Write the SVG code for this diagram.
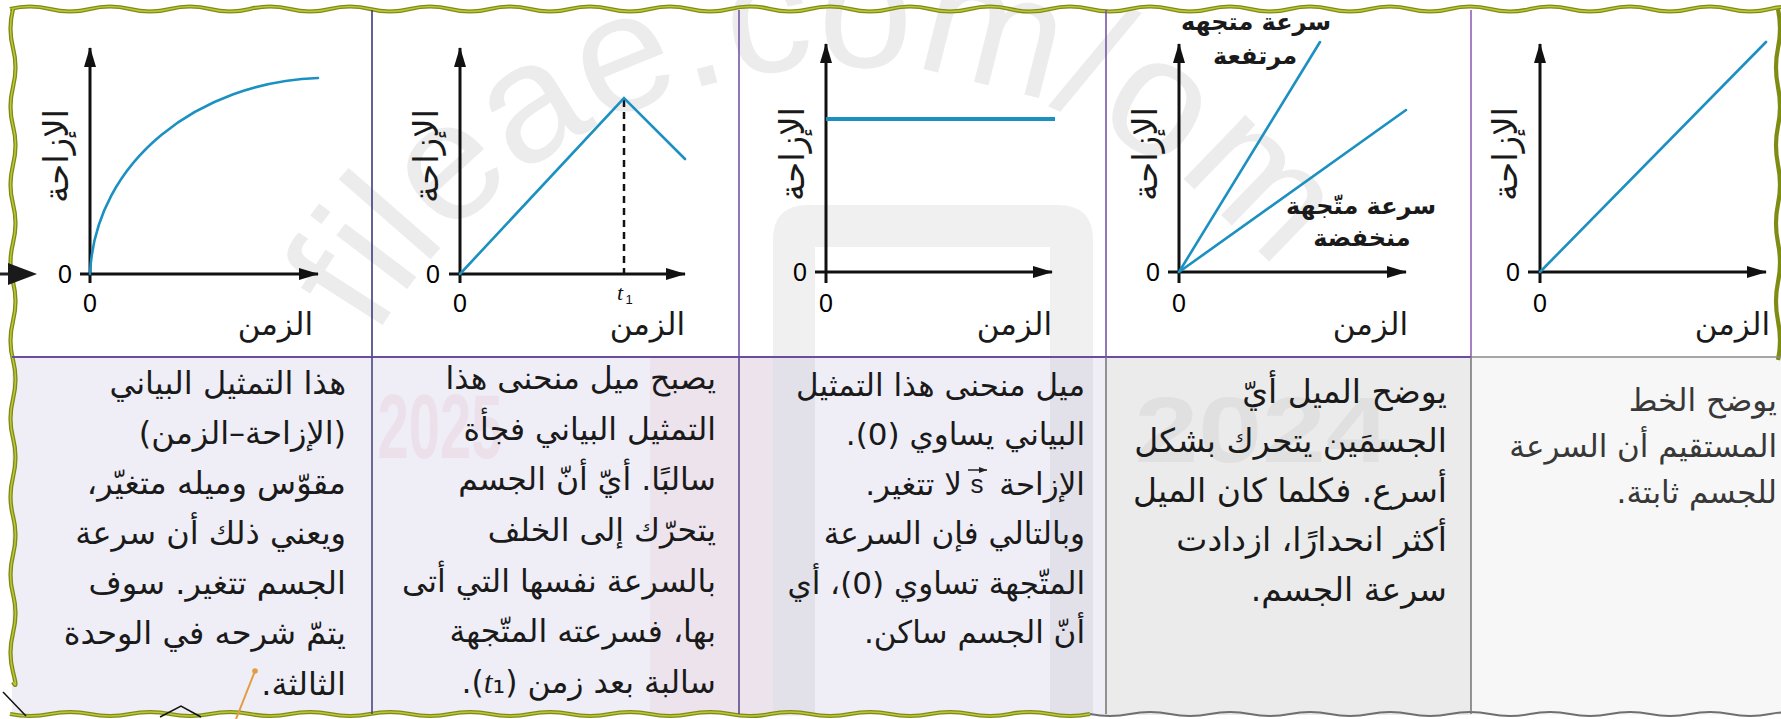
<svg xmlns="http://www.w3.org/2000/svg" width="1781" height="719" viewBox="0 0 1781 719">
<style>
.ar{font-family:'DejaVu Sans',sans-serif;fill:#1a1a1a;direction:rtl;text-anchor:start}
.b1{font-size:32px}
.b2{font-size:31.5px}
.b3{font-size:31px}
.b4{font-size:33px}
.p5{font-size:31px;fill:#383838}
.lab{font-size:31px}
.ylab{font-size:34px;text-anchor:middle}
.small{font-size:24px;font-weight:bold;text-anchor:middle}
.num{font-family:'Liberation Sans',Arial,sans-serif;font-size:25px;fill:#000;text-anchor:middle}
.axis{stroke:#111;stroke-width:3;fill:none}
.curve{stroke:#1b90c1;stroke-width:2.6;fill:none;stroke-linecap:round}
.bd{fill:none;stroke:#7f8c14;stroke-width:4.2}
.bd2{fill:none;stroke:#bcc73c;stroke-width:1.5}
.wm{font-family:'Liberation Sans',Arial,sans-serif;fill:#ececec}
</style>
<defs>
<marker id="ah" viewBox="0 0 20 12" refX="19" refY="6" markerWidth="20" markerHeight="12" markerUnits="userSpaceOnUse" orient="auto"><path d="M0,0 L20,6 L0,12 z" fill="#111"/></marker>
<marker id="sa" viewBox="0 0 8 6" refX="8" refY="3" markerWidth="8" markerHeight="6" markerUnits="userSpaceOnUse" orient="auto"><path d="M0,0 L8,3 L0,6 z" fill="#222"/></marker>
<path id="wmArc" d="M375,338 A546,546 0 0 1 1300,308"/>
</defs>

<g id="background">
<rect x="0" y="0" width="1781" height="719" fill="#ffffff"/>
<rect x="12" y="357" width="360" height="358" fill="#efeef7"/>
<rect x="372" y="357" width="367" height="358" fill="#efeef7"/>
<rect x="739" y="357" width="367" height="358" fill="#efeef7"/>
<rect x="1106" y="357" width="365" height="358" fill="#ebebeb"/>
<rect x="1471" y="357" width="310" height="358" fill="#f7f7f7"/>
</g>

<g id="watermark">
<rect x="650" y="357" width="123" height="358" fill="#e2a0b4" opacity="0.14"/>
<path d="M773,716 V240 Q773,205 808,205 H1058 Q1093,205 1093,240 V716 H1050 V247 H815 V716 Z" fill="#8a8a8a" opacity="0.13"/>
<text class="wm" font-size="168" textLength="1060" lengthAdjust="spacingAndGlyphs"><textPath href="#wmArc">fileae.com/om</textPath></text>
<text x="440" y="458" font-family="'Liberation Sans',Arial,sans-serif" font-weight="bold" font-size="90" fill="#d98a9c" opacity="0.12" text-anchor="middle" textLength="125" lengthAdjust="spacingAndGlyphs">2025</text>
<text x="1262" y="462" font-family="'Liberation Sans',Arial,sans-serif" font-weight="bold" font-size="92" fill="#9a9a9a" opacity="0.13" text-anchor="middle" textLength="255" lengthAdjust="spacingAndGlyphs">2024</text>
</g>

<g id="frame">
<path class="bd" d="M10,9 q20,-5 40,0 t40,0 t40,0 t40,0 t40,0 t40,0 t40,0 t40,0 t40,0 t40,0 t40,0 t40,0 t40,0 t40,0 t40,0 t40,0 t40,0 t40,0 t40,0 t40,0 t40,0 t40,0 t40,0 t40,0 t40,0 t40,0 t40,0 t40,0 t40,0 t40,0 t40,0 t40,0 t40,0 t40,0 t40,0 t40,0 t40,0 t40,0 t40,0 t40,0 t40,0 t40,0 t40,0 t40,0 t40,0"/>
<path class="bd2" d="M10,9 q20,-5 40,0 t40,0 t40,0 t40,0 t40,0 t40,0 t40,0 t40,0 t40,0 t40,0 t40,0 t40,0 t40,0 t40,0 t40,0 t40,0 t40,0 t40,0 t40,0 t40,0 t40,0 t40,0 t40,0 t40,0 t40,0 t40,0 t40,0 t40,0 t40,0 t40,0 t40,0 t40,0 t40,0 t40,0 t40,0 t40,0 t40,0 t40,0 t40,0 t40,0 t40,0 t40,0 t40,0 t40,0 t40,0"/>
<path class="bd" d="M13,9 q-5,20 0,39 t0,39 t0,39 t0,39 t0,39 t0,39 t0,39 t0,39 t0,39 t0,39 t0,39 t0,39 t0,39 t0,39 t0,39 t0,39 t0,39 t0,10"/>
<path class="bd2" d="M13,9 q-5,20 0,39 t0,39 t0,39 t0,39 t0,39 t0,39 t0,39 t0,39 t0,39 t0,39 t0,39 t0,39 t0,39 t0,39 t0,39 t0,39 t0,39 t0,10"/>
<path class="bd" d="M10,714 q20,4 40,0 t40,0 t40,0 t40,0 t40,0 t40,0 t40,0 t40,0 t40,0 t40,0 t40,0 t40,0 t40,0 t40,0 t40,0 t40,0 t40,0 t40,0 t40,0 t40,0 t40,0 t40,0 t40,0 t40,0 t40,0 t40,0 t40,0"/>
<path class="bd2" d="M10,714 q20,4 40,0 t40,0 t40,0 t40,0 t40,0 t40,0 t40,0 t40,0 t40,0 t40,0 t40,0 t40,0 t40,0 t40,0 t40,0 t40,0 t40,0 t40,0 t40,0 t40,0 t40,0 t40,0 t40,0 t40,0 t40,0 t40,0 t40,0"/>
<path d="M1090,714 q20,4 40,0 t40,0 t40,0 t40,0 t40,0 t40,0 t40,0 t40,0 t40,0 t40,0 t40,0 t40,0 t40,0 t40,0 t40,0 t40,0 t40,0 t40,0" fill="none" stroke="#6f6f6f" stroke-width="2"/>
<path class="bd" d="M1778,9 q4,20 0,39 t0,39 t0,39 t0,39 t0,39 t0,39 t0,39 t0,39 t0,39"/>
<line x1="372" y1="10" x2="372" y2="357" stroke="#3c3a7e" stroke-width="1.6"/>
<line x1="739" y1="10" x2="739" y2="357" stroke="#7553a6" stroke-width="1.6"/>
<line x1="1106" y1="10" x2="1106" y2="357" stroke="#7553a6" stroke-width="1.6"/>
<line x1="1471" y1="10" x2="1471" y2="357" stroke="#9061b4" stroke-width="1.6"/>
<line x1="12" y1="357" x2="1471" y2="357" stroke="#6a4d9e" stroke-width="2"/>
<line x1="1471" y1="357" x2="1781" y2="357" stroke="#8a8a8a" stroke-width="1.6"/>
<line x1="372" y1="357" x2="372" y2="714" stroke="#4a4780" stroke-width="1.6"/>
<line x1="739" y1="357" x2="739" y2="714" stroke="#5a4a8a" stroke-width="1.6"/>
<line x1="1106" y1="357" x2="1106" y2="714" stroke="#7a7a7a" stroke-width="1.6"/>
<line x1="1471" y1="357" x2="1471" y2="714" stroke="#7a7a7a" stroke-width="1.6"/>
<polyline points="3,692 26,716" fill="none" stroke="#111" stroke-width="1.5"/>
<polyline points="160,717 181,706 201,717" fill="none" stroke="#111" stroke-width="1.5"/>
<line x1="255" y1="671" x2="236" y2="719" stroke="#e29b3f" stroke-width="2"/>
<circle cx="255" cy="671" r="2.8" fill="#e29b3f"/>
</g>

<g id="connectors">
<line x1="0" y1="274" x2="14" y2="274" stroke="#222" stroke-width="3"/>
<polygon points="8,263 37,274 8,285" fill="#1a1a1a"/>
</g>

<g id="panel1">
<line class="axis" x1="90" y1="283" x2="90" y2="48" marker-end="url(#ah)"/>
<line class="axis" x1="80" y1="274" x2="318" y2="274" marker-end="url(#ah)"/>
<path class="curve" d="M90,274 C95,160 200,82 318,78"/>
<text class="num" x="65" y="283">0</text>
<text class="num" x="90" y="312">0</text>
<text class="ar lab" x="313" y="335">الزمن</text>
<text class="ar ylab" transform="translate(68,156) rotate(-90)">الإزاحة</text>
<text class="ar b1" x="346" y="394">هذا التمثيل البياني</text>
<text class="ar b1" x="346" y="444">(الإزاحة–الزمن)</text>
<text class="ar b1" x="346" y="494">مقوّس وميله متغيّر،</text>
<text class="ar b1" x="346" y="544">ويعني ذلك أن سرعة</text>
<text class="ar b1" x="346" y="594">الجسم تتغير. سوف</text>
<text class="ar b1" x="346" y="644">يتمّ شرحه في الوحدة</text>
<text class="ar b1" x="346" y="695">الثالثة.</text>
</g>

<g id="panel2">
<line class="axis" x1="460" y1="283" x2="460" y2="48" marker-end="url(#ah)"/>
<line class="axis" x1="449" y1="274" x2="685" y2="274" marker-end="url(#ah)"/>
<line x1="624" y1="100" x2="624" y2="274" stroke="#111" stroke-width="2.5" stroke-dasharray="7,5"/>
<polyline class="curve" points="460,274 624,98 685,159"/>
<text class="num" x="433" y="283">0</text>
<text class="num" x="460" y="312">0</text>
<text x="620" y="300" font-family="'Liberation Serif',serif" font-style="italic" font-size="22" fill="#111" text-anchor="middle">t</text>
<text x="629" y="304" font-family="'Liberation Sans',sans-serif" font-size="13" fill="#111" text-anchor="middle">1</text>
<text class="ar lab" x="685" y="335">الزمن</text>
<text class="ar ylab" transform="translate(438,156) rotate(-90)">الإزاحة</text>
<text class="ar b2" x="716" y="389">يصبح ميل منحنى هذا</text>
<text class="ar b2" x="716" y="440">التمثيل البياني فجأة</text>
<text class="ar b2" x="716" y="490">سالبًا. أيّ أنّ الجسم</text>
<text class="ar b2" x="716" y="541">يتحرّك إلى الخلف</text>
<text class="ar b2" x="716" y="592">بالسرعة نفسها التي أتى</text>
<text class="ar b2" x="716" y="642">بها، فسرعته المتّجهة</text>
<text class="ar b2" x="716" y="693">سالبة بعد زمن (<tspan font-family="'Liberation Serif',serif" font-style="italic">t</tspan>₁).</text>
</g>

<g id="panel3">
<line class="axis" x1="826" y1="283" x2="826" y2="44" marker-end="url(#ah)"/>
<line class="axis" x1="815" y1="272" x2="1052" y2="272" marker-end="url(#ah)"/>
<line x1="826" y1="119" x2="1055" y2="119" stroke="#1b90c1" stroke-width="4"/>
<text class="num" x="800" y="281">0</text>
<text class="num" x="826" y="312">0</text>
<text class="ar lab" x="1052" y="335">الزمن</text>
<text class="ar ylab" transform="translate(804,154) rotate(-90)">الإزاحة</text>
<text class="ar b3" x="1085" y="396">ميل منحنى هذا التمثيل</text>
<text class="ar b3" x="1085" y="445">البياني يساوي (0).</text>
<text class="ar b3" x="1085" y="495">الإزاحة</text>
<text x="977" y="493" font-family="'Liberation Sans',Arial,sans-serif" font-size="26" fill="#1c1c1c" text-anchor="middle">s</text>
<line x1="968" y1="470" x2="987" y2="470" stroke="#222" stroke-width="1.5" marker-end="url(#sa)"/>
<text class="ar b3" x="962" y="495">لا تتغير.</text>
<text class="ar b3" x="1085" y="544">وبالتالي فإن السرعة</text>
<text class="ar b3" x="1085" y="594">المتّجهة تساوي (0)، أي</text>
<text class="ar b3" x="1085" y="643">أنّ الجسم ساكن.</text>
</g>

<g id="panel4">
<line class="axis" x1="1179" y1="283" x2="1179" y2="44" marker-end="url(#ah)"/>
<line class="axis" x1="1168" y1="272" x2="1406" y2="272" marker-end="url(#ah)"/>
<line class="curve" x1="1179" y1="272" x2="1320" y2="42"/>
<line class="curve" x1="1179" y1="272" x2="1406" y2="110"/>
<text class="num" x="1153" y="281">0</text>
<text class="num" x="1179" y="312">0</text>
<text class="ar lab" x="1408" y="335">الزمن</text>
<text class="ar ylab" transform="translate(1157,154) rotate(-90)">الإزاحة</text>
<text class="ar small" x="1256" y="30">سرعة متجهه</text>
<text class="ar small" x="1255" y="64">مرتفعة</text>
<text class="ar small" x="1361" y="214">سرعة متّجهة</text>
<text class="ar small" x="1362" y="246">منخفضة</text>
<text class="ar b4" x="1447" y="403">يوضح الميل أيّ</text>
<text class="ar b4" x="1447" y="452">الجسمَين يتحرك بشكل</text>
<text class="ar b4" x="1447" y="502">أسرع. فكلما كان الميل</text>
<text class="ar b4" x="1447" y="551">أكثر انحدارًا، ازدادت</text>
<text class="ar b4" x="1447" y="601">سرعة الجسم.</text>
</g>

<g id="panel5">
<line class="axis" x1="1540" y1="283" x2="1540" y2="44" marker-end="url(#ah)"/>
<line class="axis" x1="1528" y1="272" x2="1766" y2="272" marker-end="url(#ah)"/>
<line class="curve" x1="1540" y1="272" x2="1766" y2="42"/>
<text class="num" x="1513" y="281">0</text>
<text class="num" x="1540" y="312">0</text>
<text class="ar lab" x="1770" y="335">الزمن</text>
<text class="ar ylab" transform="translate(1517,154) rotate(-90)">الإزاحة</text>
<text class="ar p5" x="1777" y="411">يوضح الخط</text>
<text class="ar p5" x="1777" y="457">المستقيم أن السرعة</text>
<text class="ar p5" x="1777" y="503">للجسم ثابتة.</text>
</g>
</svg>
